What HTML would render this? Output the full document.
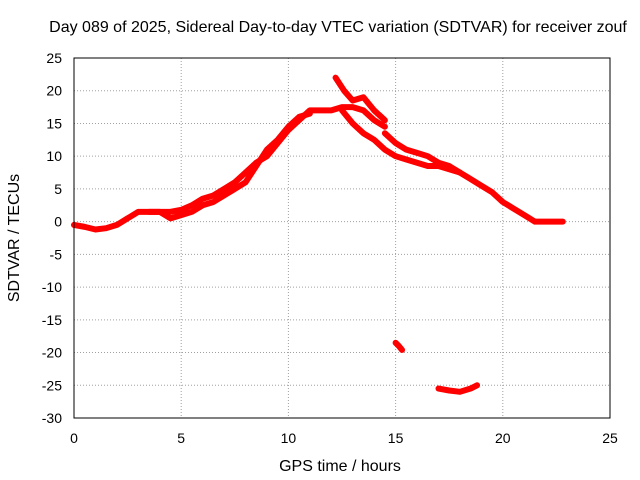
<!DOCTYPE html>
<html><head><meta charset="utf-8"><style>
body{margin:0;background:#fff}
svg{display:block;font-family:"Liberation Sans",sans-serif}
</style></head><body>
<svg id="chart" width="640" height="480" viewBox="0 0 640 480">
<rect width="640" height="480" fill="#fff"/>
<text x="338" y="32" font-size="16" text-anchor="middle">Day 089 of 2025, Sidereal Day-to-day VTEC variation (SDTVAR) for receiver zouf</text>
<text x="340" y="471" font-size="16" text-anchor="middle">GPS time / hours</text>
<text transform="translate(19,238) rotate(-90)" font-size="16" text-anchor="middle">SDTVAR / TECUs</text>
<g id="grid"></g><g id="ticks"></g><g id="marks"></g>
<rect x="74" y="58" width="536" height="360" fill="none" stroke="#000" stroke-width="1"/>
</svg>
<script>
const xTicks=[0,5,10,15,20,25];
const yTicks=[25,20,15,10,5,0,-5,-10,-15,-20,-25,-30];
const trackA_t=[0,0.5,1,1.5,2,2.5,3,3.5,4,4.5,5,5.5,6,6.5,7,7.5,8,8.5,9,9.5,10,10.5,11,11.5,12,12.5,13,13.5,14,14.5];
const trackA_v=[-0.5,-0.8,-1.2,-1,-0.5,0.5,1.5,1.5,1.5,1.5,1.8,2.5,3.5,4,5,6,7.5,9,10,12,14,15.5,17,17,17,17.5,17.5,17,15.5,14.5];
const trackB_t=[3.5,4,4.5,5,5.5,6,6.5,7,7.5,8,8.5,9,9.5,10,10.5,11];
const trackB_v=[1.5,1.5,0.5,1,1.5,2.5,3,4,5,6,8.5,11,12.5,14.5,16,16.5];
const trackC_t=[12.5,13,13.5,14,14.5,15,15.5,16,16.5,17,17.5,18,18.5,19,19.5,20,20.5,21,21.5,22,22.5,22.8];
const trackC_v=[17,15,13.5,12.5,11,10,9.5,9,8.5,8.5,8,7.5,6.5,5.5,4.5,3,2,1,0,0,0,0];
const trackD_t=[12.2,12.6,13,13.5,14,14.5];
const trackD_v=[22,20,18.5,19,17,15.5];
const trackE_t=[14.5,15,15.5,16,16.5,17,17.5,18];
const trackE_v=[13.5,12,11,10.5,10,9,8.5,7.5];
const trackF_t=[15,15.15,15.3];
const trackF_v=[-18.5,-19,-19.6];
const trackG_t=[17,17.5,18,18.5,18.8];
const trackG_v=[-25.5,-25.8,-26,-25.5,-25];
const tracks=[[trackA_t,trackA_v],[trackB_t,trackB_v],[trackC_t,trackC_v],[trackD_t,trackD_v],[trackE_t,trackE_v],[trackF_t,trackF_v],[trackG_t,trackG_v]];
const X=t=>74+(t-0)*536/25;
const Y=v=>58+(25-v)*360/55;
const NS="http://www.w3.org/2000/svg";
const grid=document.getElementById('grid'),ticks=document.getElementById('ticks'),marks=document.getElementById('marks');
xTicks.forEach(t=>{
 const l=document.createElementNS(NS,'line');
 
 
 l.setAttribute('x1',X(t));l.setAttribute('x2',X(t));l.setAttribute('y1',58);l.setAttribute('y2',418);
 l.setAttribute('stroke','#a0a0a0');l.setAttribute('stroke-dasharray','1,2');grid.appendChild(l);
 const s=document.createElementNS(NS,'text');
 
 
 s.setAttribute('x',X(t));s.setAttribute('y',443);s.setAttribute('font-size','14');s.setAttribute('text-anchor','middle');
 s.textContent=t;ticks.appendChild(s);
});
yTicks.forEach(v=>{
 const l=document.createElementNS(NS,'line');
 
 
 l.setAttribute('x1',74);l.setAttribute('x2',610);l.setAttribute('y1',Y(v));l.setAttribute('y2',Y(v));
 l.setAttribute('stroke','#a0a0a0');l.setAttribute('stroke-dasharray','1,2');grid.appendChild(l);
 const s=document.createElementNS(NS,'text');
 
 
 s.setAttribute('x',62);s.setAttribute('y',Y(v)+5);s.setAttribute('font-size','14');s.setAttribute('text-anchor','end');
 s.textContent=v;ticks.appendChild(s);
});
tracks.forEach(([ts,vs])=>{
 const p=document.createElementNS(NS,'polyline');
 
 
 p.setAttribute('points',ts.map((t,i)=>X(t)+','+Y(vs[i])).join(' '));
 p.setAttribute('fill','none');p.setAttribute('stroke','#f00');p.setAttribute('stroke-width','6');
 p.setAttribute('stroke-linejoin','round');p.setAttribute('stroke-linecap','round');
 marks.appendChild(p);
});
</script>
</body></html>
